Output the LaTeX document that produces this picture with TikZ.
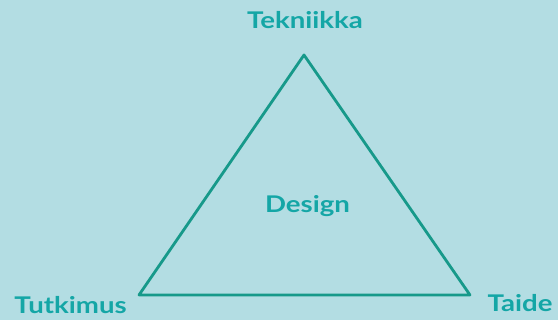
\documentclass[tikz,border=0pt]{standalone}
\usepackage{fontspec}
\setmainfont{Lato}[FakeStretch=1.2]
\definecolor{bg}{HTML}{B3DDE3}
\definecolor{stroke}{HTML}{17998A}
\definecolor{txt}{HTML}{14A6A6}
\begin{document}
\begin{tikzpicture}[x=1pt,y=1pt,
  lbl/.style={text=txt,font=\bfseries\fontsize{23}{26}\selectfont,inner sep=0pt,anchor=center},
  edge/.style={draw=stroke,line width=2.8pt,line join=round,line cap=round}]
\fill[bg] (0,0) rectangle (558,320);
\useasboundingbox (0,0) rectangle (558,320);
\coordinate (T) at (304,265);
\coordinate (L) at (139,25);
\coordinate (R) at (470,25);
\draw[edge] (T) -- (R) -- (L) -- cycle;
\node[lbl] (tek) at (305,300) {Tekniikka};
\node[lbl] (tut) at (70.5,15) {Tutkimus};
\node[lbl] (tai) at (520,17) {Taide};
\node[lbl] (des) at (307.5,114) {Design};
\end{tikzpicture}
\end{document}
